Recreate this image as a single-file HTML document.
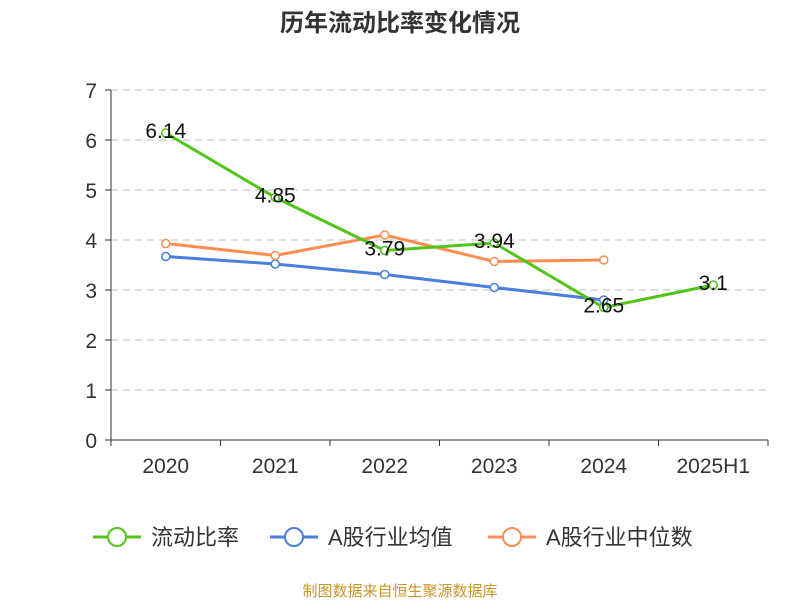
<!DOCTYPE html>
<html><head><meta charset="utf-8"><style>
body{margin:0;background:#fff;}
svg{display:block;font-family:"Liberation Sans","Noto Sans CJK SC",sans-serif;}
</style></head><body>
<svg id="c" width="800" height="600">
<text x="400" y="31" text-anchor="middle" font-size="24" font-weight="bold" fill="#333">历年流动比率变化情况</text>
<g id="grid"></g><g id="axes"></g><g id="series"></g><g id="labels"></g>
<g>
<g><line x1="93" y1="537" x2="141" y2="537" stroke="#52c41a" stroke-width="3"/><circle cx="117" cy="537" r="9" fill="#fff" stroke="#52c41a" stroke-width="2"/><text x="151" y="545" font-size="22" fill="#333">流动比率</text></g>
<g><line x1="270" y1="537" x2="318" y2="537" stroke="#4a7fe0" stroke-width="3"/><circle cx="294" cy="537" r="9" fill="#fff" stroke="#4a7fe0" stroke-width="2"/><text x="328" y="545" font-size="22" fill="#333">A股行业均值</text></g>
<g><line x1="488" y1="537" x2="536" y2="537" stroke="#ff8c50" stroke-width="3"/><circle cx="512" cy="537" r="9" fill="#fff" stroke="#ff8c50" stroke-width="2"/><text x="546" y="545" font-size="22" fill="#333">A股行业中位数</text></g>
</g>
<text x="400" y="596" text-anchor="middle" font-size="15" fill="#c8962a">制图数据来自恒生聚源数据库</text>
</svg>
<script>
const categories=["2020","2021","2022","2023","2024","2025H1"];
const ratio=[6.14,4.85,3.79,3.94,2.65,3.1];
const ratioLabels=["6.14","4.85","3.79","3.94","2.65","3.1"];
const mean=[3.67,3.52,3.31,3.05,2.8];
const median=[3.93,3.69,4.1,3.57,3.6];
const yTicks=[0,1,2,3,4,5,6,7];
const NS="http://www.w3.org/2000/svg";
const L=111,R=768,T=90,B=440,yMax=7;
const bw=(R-L)/categories.length;
const xs=i=>L+bw*(i+0.5);
const ys=v=>B-(v/yMax)*(B-T);
function mk(p,tag,a){const e=document.createElementNS(NS,tag);for(const k in a)e.setAttribute(k,a[k]);p.appendChild(e);return e;}
const grid=document.getElementById('grid'),axes=document.getElementById('axes');
yTicks.forEach(v=>{
 if(v>0){const g=mk(grid,'line',{x1:L,x2:R,y1:ys(v),y2:ys(v),stroke:'#bbb','stroke-dasharray':'7,5'});
 
 }
 const t=mk(axes,'text',{x:L-14,y:ys(v)+8,'text-anchor':'end','font-size':21,fill:'#333'});t.textContent=v;
 
 
 mk(axes,'line',{x1:L-6,x2:L,y1:ys(v),y2:ys(v),stroke:'#333'});
});
const ya=mk(axes,'line',{x1:L,x2:L,y1:T,y2:B,stroke:'#333'});


const xa=mk(axes,'line',{x1:L,x2:R,y1:B,y2:B,stroke:'#333'});


for(let i=0;i<=categories.length;i++)mk(axes,'line',{x1:L+bw*i,x2:L+bw*i,y1:B,y2:B+6,stroke:'#333'});
categories.forEach((c,i)=>{const t=mk(axes,'text',{x:xs(i),y:473,'text-anchor':'middle','font-size':21,fill:'#333'});t.textContent=c;
 
 });
const sg=document.getElementById('series');
function series(data,color,name){
 const pl=mk(sg,'polyline',{points:data.map((v,i)=>xs(i)+','+ys(v)).join(' '),fill:'none',stroke:color,'stroke-width':3});
 
 
 data.forEach((v,i)=>{const c=mk(sg,'circle',{cx:xs(i),cy:ys(v),r:4,fill:'#fff',stroke:color,'stroke-width':1.5});
 
 });
}
series(mean,'#4a7fe0','industry-mean');
series(median,'#ff8c50','industry-median');
series(ratio,'#52c41a','current-ratio');
const lg=document.getElementById('labels');
ratio.forEach((v,i)=>{const t=mk(lg,'text',{x:xs(i),y:ys(v)+5,'text-anchor':'middle','font-size':21,fill:'#111'});t.textContent=ratioLabels[i];
 
 });
</script>
</body></html>
